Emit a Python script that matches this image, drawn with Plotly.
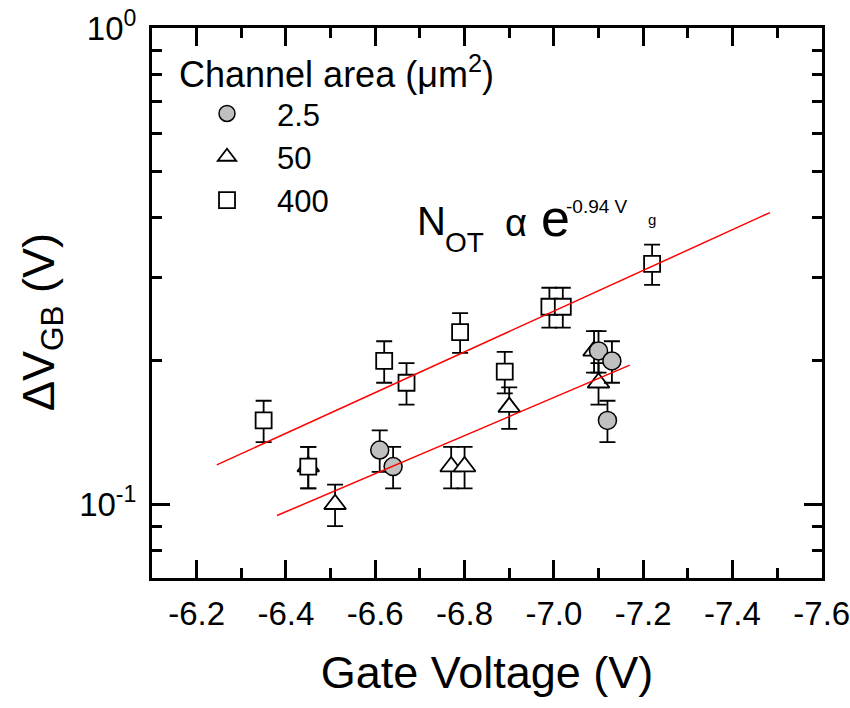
import plotly.graph_objects as go
import math

# ---------------- data ----------------
sq_x = [-6.35, -6.45, -6.62, -6.67, -6.79, -6.89, -6.99, -7.02, -7.22]
sq_y = [0.150, 0.120, 0.200, 0.180, 0.230, 0.190, 0.260, 0.260, 0.320]
sq_err = [0.015, 0.012, 0.020, 0.018, 0.022, 0.019, 0.025, 0.025, 0.031]

ci_x = [-6.61, -6.64, -7.10, -7.13, -7.12]
ci_y = [0.130, 0.120, 0.210, 0.200, 0.150]
ci_err = [0.013, 0.012, 0.021, 0.020, 0.015]

tr_x = [-6.45, -6.51, -6.77, -6.80, -6.90, -7.09, -7.10]
tr_y = [0.120, 0.100, 0.120, 0.120, 0.160, 0.210, 0.180]
tr_err = [0.012, 0.010, 0.012, 0.012, 0.016, 0.021, 0.018]

fit_up_x = [-6.245, -7.484]
fit_up_y = [0.121, 0.410]
fit_lo_x = [-6.38, -7.17]
fit_lo_y = [0.0947, 0.196]

x_ticks = [-6.2, -6.4, -6.6, -6.8, -7.0, -7.2, -7.4, -7.6]
x_ticktext = ["-6.2", "-6.4", "-6.6", "-6.8", "-7.0", "-7.2", "-7.4", "-7.6"]
x_minor = [-6.3, -6.5, -6.7, -6.9, -7.1, -7.3, -7.5]
y_ticks = [0.1, 1.0]
y_ticktext = ["10<sup>-1</sup>", "10<sup>0</sup>"]
y_minor = [0.07, 0.08, 0.09, 0.2, 0.3, 0.4, 0.5, 0.6, 0.7, 0.8, 0.9]

FONT = "Arial, Liberation Sans, sans-serif"

# plot-area pixel box
L, R, T, B = 152, 822, 28, 578
W, H = R - L, B - T


def px(x):
    return (x - L) / W


def py(y):
    return (B - y) / H


def err(vals):
    return dict(type="data", array=vals, visible=True, color="black",
                thickness=1.8, width=8)


fig = go.Figure()

fig.add_trace(go.Scatter(
    x=tr_x, y=tr_y, mode="markers", name="50", legendrank=2,
    error_y=err(tr_err),
    marker=dict(symbol="triangle-up", size=19, color="white",
                line=dict(color="black", width=1.8)),
))
fig.add_trace(go.Scatter(
    x=sq_x, y=sq_y, mode="markers", name="400", legendrank=3,
    error_y=err(sq_err),
    marker=dict(symbol="square", size=16, color="white",
                line=dict(color="black", width=1.8)),
))
fig.add_trace(go.Scatter(
    x=ci_x, y=ci_y, mode="markers", name="2.5", legendrank=1,
    error_y=err(ci_err),
    marker=dict(symbol="circle", size=18, color="#c0c0c0",
                line=dict(color="black", width=1.5)),
))
fig.add_trace(go.Scatter(
    x=fit_up_x, y=fit_up_y, mode="lines", showlegend=False,
    line=dict(color="red", width=1.5),
))
fig.add_trace(go.Scatter(
    x=fit_lo_x, y=fit_lo_y, mode="lines", showlegend=False,
    line=dict(color="red", width=1.5),
))

axis_common = dict(
    showline=True, linewidth=3, linecolor="black", mirror="ticks",
    ticks="inside", ticklen=18, tickwidth=2.5, tickcolor="black",
    showgrid=False, zeroline=False, ticklabeloverflow="allow",
    automargin=False,
    tickfont=dict(family=FONT, size=33, color="black"),
)

fig.update_xaxes(
    range=[-6.1, -7.6005], tickmode="array", tickvals=x_ticks, ticktext=x_ticktext,
    minor=dict(tickmode="array", tickvals=x_minor, ticks="inside", ticklen=10,
               tickwidth=2.5, tickcolor="black", showgrid=False),
    ticklabelstandoff=4,
    title=dict(text="Gate Voltage (V)", font=dict(family=FONT, size=45, color="black"),
               standoff=26),
    **axis_common,
)
fig.update_yaxes(
    type="log", range=[math.log10(0.07), 0.0005], tickmode="array", tickvals=y_ticks,
    ticktext=y_ticktext,
    minor=dict(tickmode="array", tickvals=y_minor, ticks="inside", ticklen=10,
               tickwidth=2.5, tickcolor="black", showgrid=False),
    ticklabelstandoff=6,
    **axis_common,
)

# y-axis title (placed to match the reference's vertical offset)
fig.add_annotation(
    text="\u0394V<sub>GB</sub> (V)", xref="paper", yref="paper",
    x=px(41), y=py(322), xanchor="center", yanchor="middle", textangle=-90,
    showarrow=False, font=dict(family=FONT, size=45, color="black"),
)

# annotation pieces: N_OT  alpha e^{-0.94 V_g}
pieces = [
    ("N", 415, 235, 40),
    ("OT", 443, 252, 28),
    ("\u03b1", 503, 236, 38),
    ("e", 539, 236, 52),
    ("-0.94 V", 564, 213, 19),
    ("g", 646, 225, 15),
]
for txt, xl, base, fs in pieces:
    fig.add_annotation(
        text=txt, xref="paper", yref="paper", x=px(xl), y=py(base - 0.3465 * fs),
        xanchor="left", yanchor="middle", showarrow=False,
        font=dict(family=FONT, size=fs, color="black"),
    )

fig.update_layout(
    width=850, height=708,
    margin=dict(l=L, r=850 - R, t=T, b=708 - B, pad=0),
    plot_bgcolor="white", paper_bgcolor="white",
    font=dict(family=FONT, color="black"),
    legend=dict(
        x=px(177), y=py(40), xanchor="left", yanchor="top",
        bgcolor="rgba(0,0,0,0)", borderwidth=0,
        itemwidth=90, tracegroupgap=0,
        font=dict(family=FONT, size=31, color="black"),
        title=dict(text="Channel area (\u03bcm<sup>2</sup>)",
                   font=dict(family=FONT, size=36, color="black")),
    ),
)

fig.write_html("out.html")
